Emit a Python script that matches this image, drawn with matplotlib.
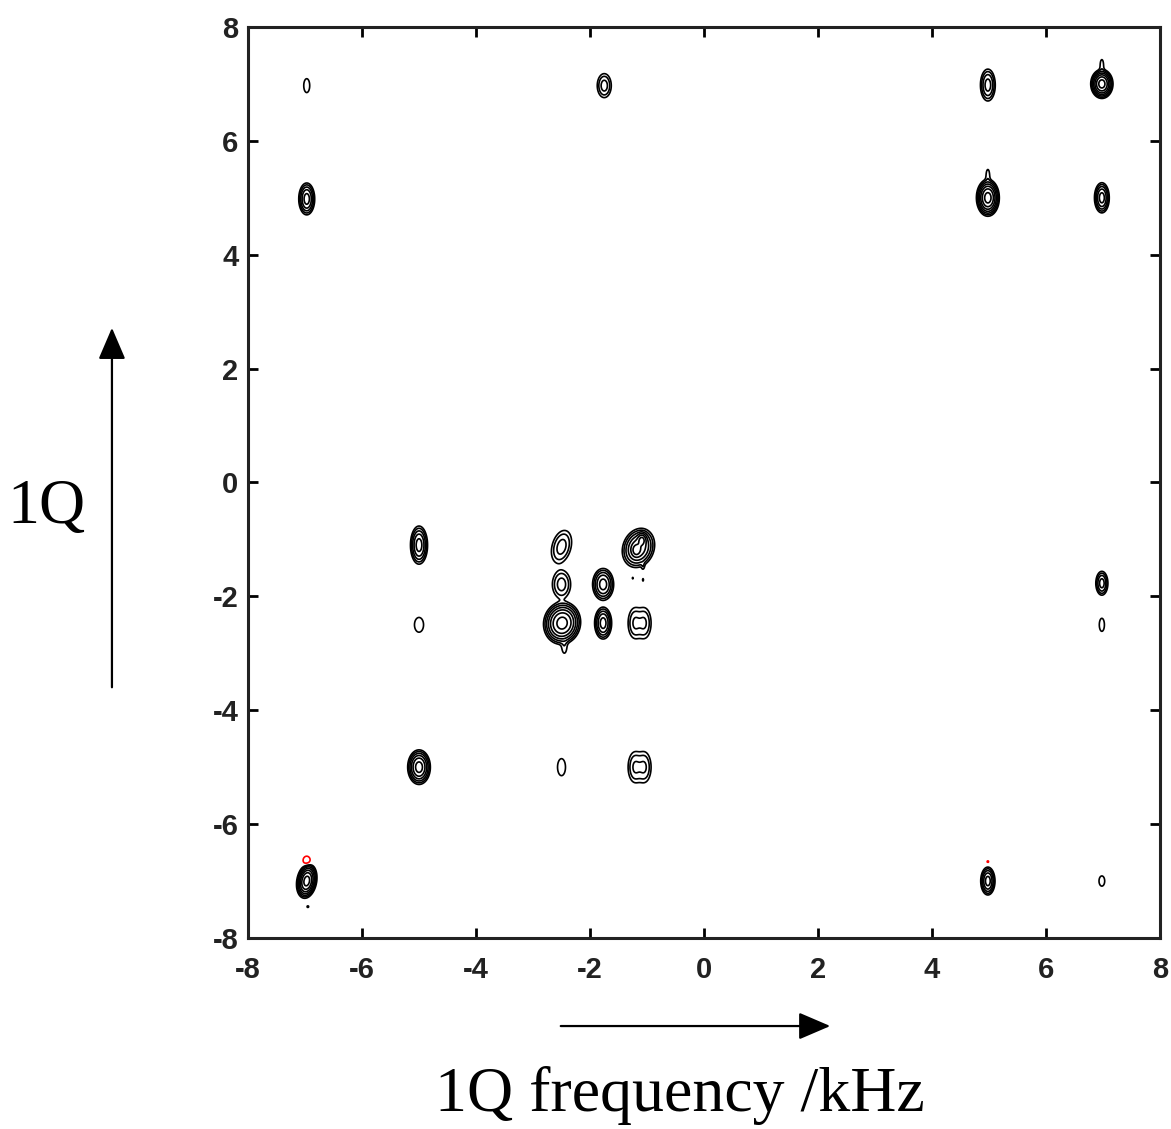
import matplotlib
matplotlib.use('Agg')
import matplotlib.pyplot as plt
import numpy as np

plt.rcParams['axes.unicode_minus'] = False

# peak list read off the spectrum : centre (kHz), height (in units of the lowest contour),
# gaussian widths (kHz), lean of the long axis (deg, + = top to the right)
peak_x = [-6.97, -1.75, 4.98, 6.98, 6.98, -6.97, 4.98, 4.98, 6.98,
          -5.00, -2.50, -1.15, -1.19, -1.09, -1.07, -2.50, -1.77, -1.25, -1.07,
          -5.00, -2.49, -2.45, -1.77, -1.21, -1.05, 6.98, 6.98,
          -5.00, -2.50, -1.21, -1.05, -6.97, -6.97, -6.95, 4.98, 4.98, 6.98]
peak_y = [6.97, 6.97, 6.98, 7.00, 7.33, 4.98, 5.00, 5.40, 5.00,
          -1.10, -1.13, -1.15, -1.19, -1.01, -1.47, -1.79, -1.79, -1.68, -1.71,
          -2.50, -2.47, -2.90, -2.47, -2.47, -2.47, -1.77, -2.50,
          -5.00, -5.00, -5.00, -5.00, -7.00, -6.64, -7.45, -7.00, -6.66, -7.00]
peak_h = [1.41, 5.66, 11.3, 90.5, 1.60, 22.6, 90.5, 1.60, 22.6,
          22.6, 5.66, 30.0, 30.0, 30.0, 1.30, 5.66, 22.6, 1.30, 1.30,
          1.41, 90.5, 1.60, 22.6, 4.50, 4.50, 11.3, 1.41,
          45.3, 1.41, 4.50, 4.50, 90.5, -2.00, 1.30, 22.6, -1.50, 1.41]
peak_sx = [0.063, 0.066, 0.059, 0.065, 0.030, 0.056, 0.067, 0.030, 0.052,
           0.060, 0.089, 0.105, 0.040, 0.040, 0.020, 0.086, 0.074, 0.012, 0.012,
           0.096, 0.108, 0.040, 0.060, 0.070, 0.070, 0.048, 0.054,
           0.072, 0.084, 0.070, 0.070, 0.058, 0.055, 0.020, 0.050, 0.015, 0.060]
peak_sy = [0.147, 0.113, 0.127, 0.085, 0.100, 0.112, 0.108, 0.100, 0.106,
           0.134, 0.158, 0.135, 0.055, 0.055, 0.050, 0.132, 0.112, 0.018, 0.030,
           0.156, 0.125, 0.100, 0.112, 0.154, 0.154, 0.095, 0.138,
           0.110, 0.180, 0.154, 0.154, 0.102, 0.065, 0.020, 0.098, 0.018, 0.108]
peak_tilt = [0, 0, 0, 0, 0, 0, 0, 0, 0,
             0, 15, 20, 0, 0, 0, 0, 0, 0, 0,
             0, 10, 0, 0, 0, 0, 0, 0,
             0, 0, 0, 0, 10, 0, 0, 0, 0, 0]

tick_vals = [-8, -6, -4, -2, 0, 2, 4, 6, 8]


f1 = np.linspace(-8, 8, 1601)
F2, F1 = np.meshgrid(f1, f1)
spec = np.zeros_like(F2)
for x0, y0, h, sx, sy, tl in zip(peak_x, peak_y, peak_h, peak_sx, peak_sy, peak_tilt):
    t = -np.radians(tl)
    dx = F2 - x0
    dy = F1 - y0
    u = dx*np.cos(t) + dy*np.sin(t)
    v = -dx*np.sin(t) + dy*np.cos(t)
    spec += h*np.exp(-(u**2/(2*sx**2) + v**2/(2*sy**2)))

pos_levels = 2.0**np.arange(0, 8)


fig = plt.figure(figsize=(11.71, 11.29), dpi=100)
ax = fig.add_axes([0.2118, 0.1692, 0.9906-0.2118, 0.9761-0.1692])

ax.contour(F2, F1, spec, levels=pos_levels, colors='k', linewidths=1.2, linestyles='solid')
ax.contour(F2, F1, spec, levels=[-1.0], colors='red', linewidths=1.2, linestyles='solid')

ax.set_xlim(-8, 8)
ax.set_ylim(-8, 8)
ax.set_xticks(tick_vals)
ax.set_yticks(tick_vals)
ax.tick_params(direction='in', length=7, width=2, top=True, right=True)
ax.tick_params(axis='x', pad=13)
ax.tick_params(axis='y', pad=7)
for lab in ax.get_xticklabels() + ax.get_yticklabels():
    lab.set_fontfamily('Liberation Sans')
    lab.set_fontweight('bold')
    lab.set_fontsize(21)
    lab.set_color('#222222')
for sp in ax.spines.values():
    sp.set_linewidth(2.2)
    sp.set_color('#222222')

# axis labels with arrows, drawn in figure coords
fig.text(0.040, 0.55, '1Q', fontfamily='Liberation Serif', fontsize=46,
         ha='center', va='center')
fig.text(0.5807, 0.030, '1Q frequency /kHz', fontfamily='Liberation Serif', fontsize=46,
         ha='center', va='center')
fig.add_artist(matplotlib.patches.FancyArrowPatch((0.0956, 0.3888), (0.0956, 0.7121),
               transform=fig.transFigure, arrowstyle='-|>,head_length=1.4,head_width=0.6',
               mutation_scale=14, color='k', lw=1.6))
fig.add_artist(matplotlib.patches.FancyArrowPatch((0.4765, 0.0912), (0.7114, 0.0912),
               transform=fig.transFigure, arrowstyle='-|>,head_length=1.4,head_width=0.6',
               mutation_scale=14, color='k', lw=1.6))

fig.savefig('out.png', dpi=100)
